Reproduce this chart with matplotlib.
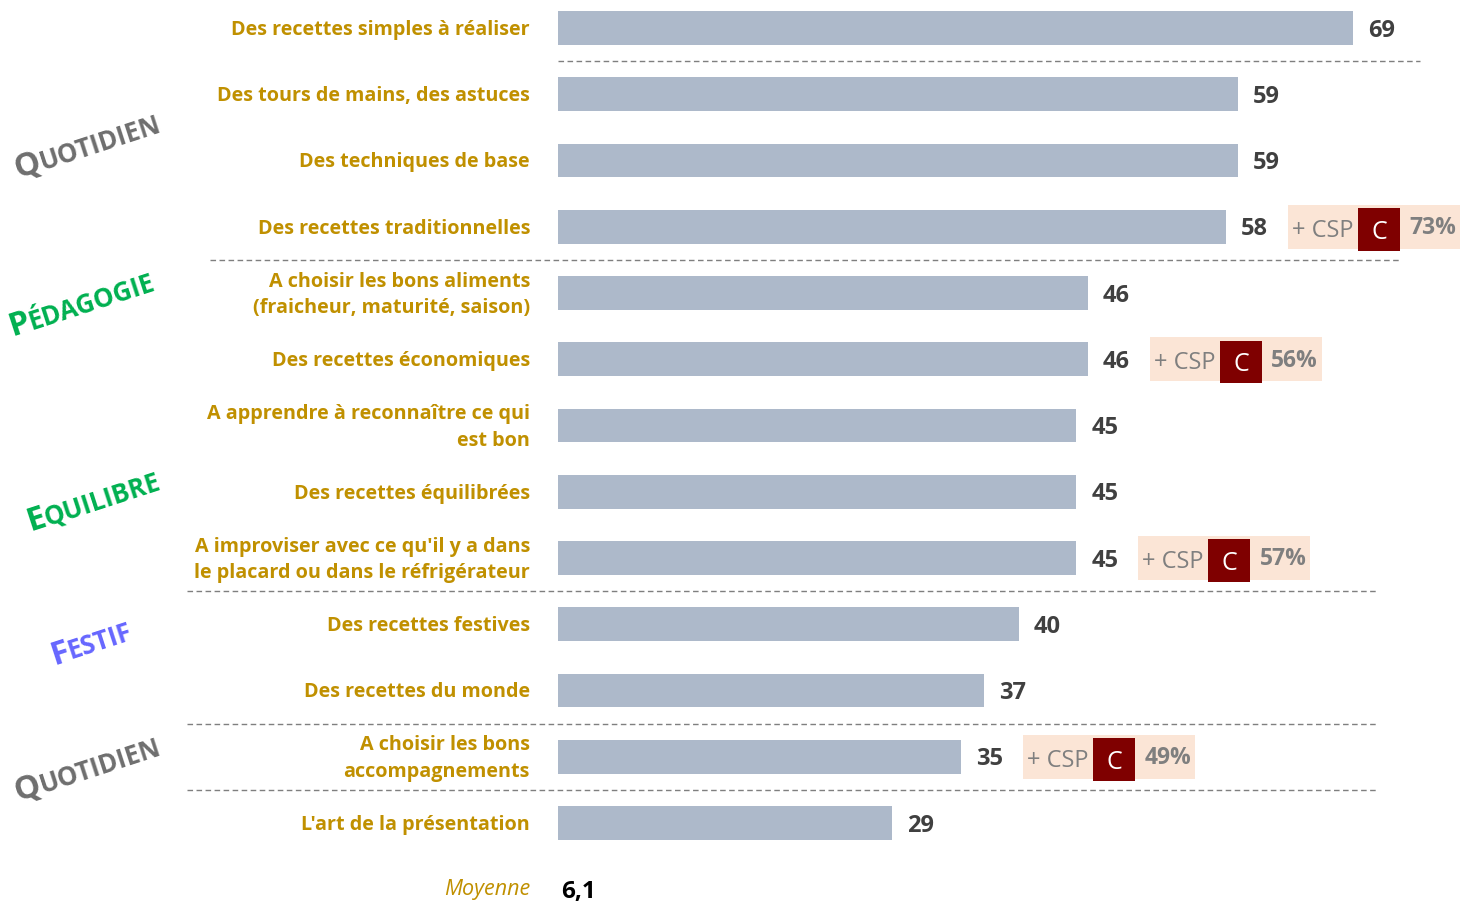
import matplotlib.pyplot as plt
from matplotlib import transforms
import numpy as np

labels = [
    "Des recettes simples à réaliser",
    "Des tours de mains, des astuces",
    "Des techniques de base",
    "Des recettes traditionnelles",
    "A choisir les bons aliments\n(fraicheur, maturité, saison)",
    "Des recettes économiques",
    "A apprendre à reconnaître ce qui\nest bon",
    "Des recettes équilibrées",
    "A improviser avec ce qu'il y a dans\nle placard ou dans le réfrigérateur",
    "Des recettes festives",
    "Des recettes du monde",
    "A choisir les bons\naccompagnements",
    "L'art de la présentation",
]
values = [69, 59, 59, 58, 46, 46, 45, 45, 45, 40, 37, 35, 29]

# rows carrying a "+ CSP C" highlight and its share
csp_rows = [3, 5, 8, 11]
csp_values = ["73%", "56%", "57%", "49%"]

# separators sit between these rows (after row index)
sep_after = [0, 3, 8, 10, 11]

groups = ["QUOTIDIEN", "PÉDAGOGIE", "EQUILIBRE", "FESTIF", "QUOTIDIEN"]

moyenne = "6,1"

BAR = "#ADB9CA"
GOLD = "#C09000"
VAL = "#404040"
group_colors = ["#6E6E6E", "#00B050", "#00B050", "#6666FF", "#6E6E6E"]
FONT = "Open Sans"

W, H = 1460, 909
fig = plt.figure(figsize=(W / 100, H / 100), dpi=100)
px_per_unit = (1353 - 558) / 69
x0 = 558
ax = fig.add_axes([x0 / W, 0, 1 - x0 / W, 1])
ax.set_xlim(0, (W - x0) / px_per_unit)
row_h = (823 - 28) / 12
ax.set_ylim((H - 28) / row_h, -28 / row_h)
ax.axis("off")


def px(n):
    return n / px_per_unit


y = np.arange(len(values))
ax.barh(y, values, height=0.51, color=BAR, zorder=2)

for i, (lab, v) in enumerate(zip(labels, values)):
    ax.text(px(-28), i + 0.03, lab, ha="right", va="center", color=GOLD,
            fontsize=14.2, fontweight="bold", family=FONT,
            linespacing=1.45, clip_on=False)
    ax.text(v + px(15), i + 0.04, str(v), ha="left", va="center", color=VAL,
            fontsize=17, fontweight="bold", family=FONT)

# "+ CSP C xx%" boxes
for r, pct in zip(csp_rows, csp_values):
    left = values[r] + px(62)
    ax.add_patch(plt.Rectangle((left, r - 0.33), px(172), 0.66,
                               facecolor="#FBE5D6", edgecolor="none",
                               zorder=1, clip_on=False))
    ax.add_patch(plt.Rectangle((left + px(70), r - 0.28), px(42), 0.64,
                               facecolor="#7F0000", edgecolor="none",
                               zorder=2, clip_on=False))
    ax.text(left + px(4), r + 0.06, "+ CSP", ha="left", va="center",
            color="#7F7F7F", fontsize=17, family=FONT, clip_on=False)
    ax.text(left + px(91), r + 0.08, "C", ha="center", va="center",
            color="white", fontsize=18, family=FONT, zorder=3, clip_on=False)
    ax.text(left + px(121), r + 0.02, pct, ha="left", va="center",
            color="#7F7F7F", fontsize=16.5, fontweight="bold", family=FONT,
            clip_on=False)

# dashed separators
sep_extent = {0: (558, 1420), 3: (210, 1400), 8: (187, 1378),
              10: (187, 1378), 11: (187, 1378)}
for s in sep_after:
    a, b = sep_extent[s]
    ax.plot([px(a - x0), px(b - x0)], [s + 0.5, s + 0.5], ls=(0, (4, 2.5)),
            color="#7F7F7F", lw=1.0, clip_on=False)

# rotated small-caps group names
fig.canvas.draw()
renderer = fig.canvas.get_renderer()
angle = 18
group_anchor = [(18, 178), (12, 336), (30, 531), (54, 665), (18, 801)]
for name, col, (gx, gy) in zip(groups, group_colors, group_anchor):
    first = fig.text(gx / W, 1 - gy / H, name[0], fontsize=23.5,
                     fontweight="bold", family=FONT, color=col,
                     rotation=0, rotation_mode="anchor",
                     ha="left", va="baseline")
    w = first.get_window_extent(renderer).width
    first.set_rotation(angle)
    off = transforms.offset_copy(fig.transFigure, fig=fig,
                                 x=w * np.cos(np.radians(angle)),
                                 y=w * np.sin(np.radians(angle)),
                                 units="dots")
    fig.text(gx / W, 1 - gy / H, name[1:], fontsize=18.5,
             fontweight="bold", family=FONT, color=col,
             rotation=angle, rotation_mode="anchor",
             ha="left", va="baseline", transform=off)

ax.text(px(-28), 13.0, "Moyenne", ha="right", va="center", color=GOLD,
        fontsize=15.5, style="italic", family=FONT, clip_on=False)
ax.text(px(3), 13.04, moyenne, ha="left", va="center", color="black",
        fontsize=17.5, fontweight="bold", family=FONT, clip_on=False)

fig.savefig("out.png", dpi=100)
